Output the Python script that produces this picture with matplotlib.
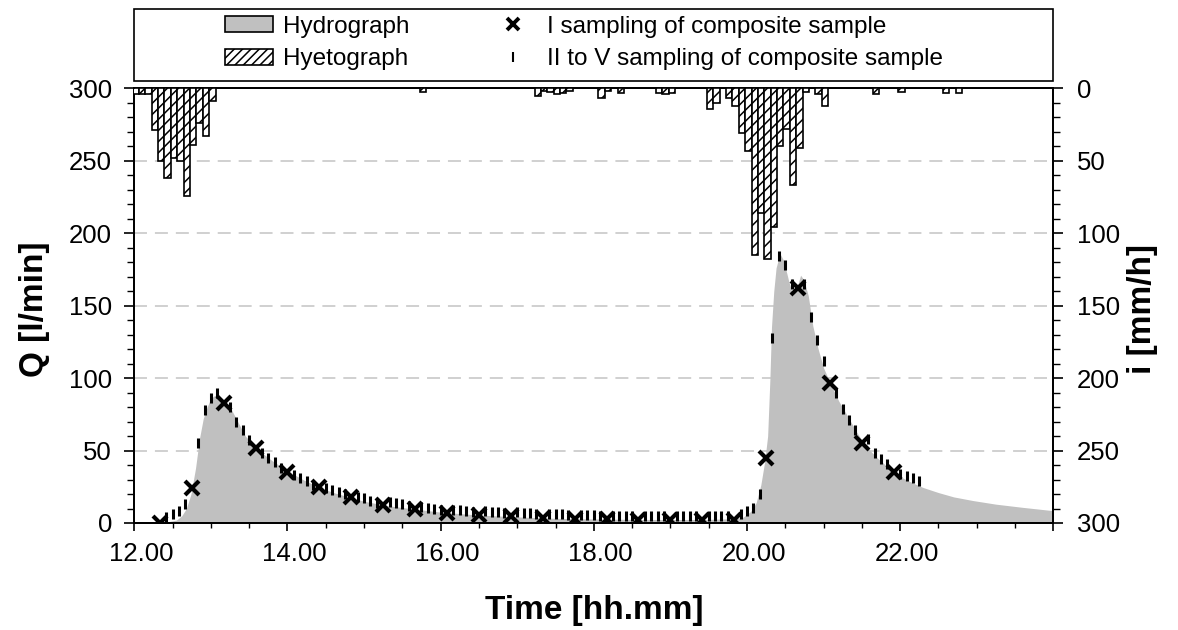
import matplotlib
matplotlib.use("Agg")
import matplotlib.pyplot as plt
import matplotlib.transforms as mtransforms
from matplotlib.patches import Patch, Rectangle
from matplotlib.lines import Line2D
from matplotlib.ticker import MultipleLocator, FuncFormatter

plt.rcParams['font.family'] = ['Liberation Sans', 'DejaVu Sans']
plt.rcParams['hatch.linewidth'] = 1.1

# ---------------- data ----------------
# Hydrograph (time in hours, Q in l/min)
hydro_t = [12.00, 12.40, 12.55, 12.62, 12.68, 12.74, 12.80, 12.85, 12.90, 12.95,
           13.00, 13.05, 13.12, 13.20, 13.28, 13.35, 13.45, 13.60, 13.80, 14.00,
           14.20, 14.40, 14.60, 14.80, 15.00, 15.30, 15.60, 16.00, 16.50, 17.00,
           17.50, 18.00, 18.50, 19.00, 19.50, 19.85, 19.95, 20.05, 20.12, 20.18,
           20.23, 20.27, 20.30, 20.32, 20.35, 20.38, 20.43, 20.48, 20.54, 20.60,
           20.65, 20.70, 20.74, 20.80, 20.86, 20.93, 21.00, 21.10, 21.20, 21.30,
           21.43, 21.55, 21.70, 21.85, 22.00, 22.15, 22.30, 22.50, 22.70, 22.95,
           23.25, 23.60, 24.00]
hydro_q = [0.0, 0.5, 2, 5, 10, 20, 38, 58, 72, 80,
           86, 88, 87, 83, 77, 70, 60, 51, 43, 36,
           30, 25, 21, 18, 15, 12, 10, 7.5, 5.5, 4.2,
           3.2, 2.8, 2.5, 2.4, 2.5, 3, 4, 8, 14, 26,
           42, 60, 100, 135, 160, 176, 186, 181, 168, 157,
           162, 171, 168, 157, 136, 120, 107, 95, 84, 75,
           63, 53, 45, 38, 32, 28, 24.5, 21, 18, 15.5,
           13, 10.8, 8.5]

# Hyetograph (bar left edge in hours, intensity in mm/h, 5-min bars)
rain_t = [11.977, 12.060, 12.143, 12.227, 12.310, 12.393, 12.477, 12.560, 12.643, 12.727,
          12.810, 12.893, 12.977, 15.727, 17.227, 17.310, 17.393, 17.477, 17.560, 17.643,
          18.060, 18.143, 18.310, 18.810, 18.893, 18.977, 19.477, 19.560, 19.727, 19.810,
          19.893, 19.977, 20.060, 20.143, 20.227, 20.310, 20.393, 20.477, 20.560, 20.643,
          20.727, 20.893, 20.977, 21.643, 21.977, 22.560, 22.727]
rain_i = [4, 4, 4, 29, 50, 62, 48, 50, 74, 39,
          24, 33, 9, 2.5, 5, 2, 2.5, 4, 3, 2,
          7, 2, 3.5, 3, 4, 3, 14, 10, 6.5, 12,
          31, 43, 115, 86, 118, 96, 40, 28, 67, 41,
          2.5, 4, 12, 4, 2.5, 3, 3]
rain_width_h = 5 / 60

# I sampling of composite sample (minutes after 12:00, Q)
comp_min = [20, 45, 70, 95, 120, 145, 170, 195, 220, 245, 270, 295,
            320, 345, 370, 395, 420, 445, 470, 495, 520, 545, 570, 595]
comp_q = [0, 24, 83, 51.5, 35, 24.5, 18, 12.5, 9.5, 7, 5.5, 4.8,
          3.3, 2.8, 2.5, 2.2, 2.2, 2.2, 2.3, 45, 162, 96.5, 55, 35]

# II to V sampling of composite sample (minutes after 12:00, Q)
sub_min = [25, 30, 35, 40, 50, 55, 60, 65, 75, 80, 85, 90,
           100, 105, 110, 115, 125, 130, 135, 140, 150, 155, 160, 165,
           175, 180, 185, 190, 200, 205, 210, 215, 225, 230, 235, 240,
           250, 255, 260, 265, 275, 280, 285, 290, 300, 305, 310, 315,
           325, 330, 335, 340, 350, 355, 360, 365, 375, 380, 385, 390,
           400, 405, 410, 415, 425, 430, 435, 440, 450, 455, 460, 465,
           475, 480, 485, 490, 500, 505, 510, 515, 525, 530, 535, 540,
           550, 555, 560, 565, 575, 580, 585, 590, 600, 605, 610, 615]
sub_q = [4, 6, 8.5, 13, 55, 78, 86, 89.5, 80, 70, 64, 57,
         48, 45, 42, 38, 33, 31, 29, 26.5, 24, 23, 21.5, 20,
         18, 17, 15.5, 14, 14.5, 14, 13, 11.5, 11, 10.5, 10, 9,
         9.2, 8.8, 8.4, 7.8, 8, 7.6, 7.3, 7, 7.3, 7, 6.8, 6.5,
         6.5, 6.2, 6, 5.8, 5.5, 5.3, 5.2, 5, 5, 5, 4.9, 4.8,
         4.8, 4.7, 4.8, 4.8, 4.8, 4.7, 4.8, 4.8, 4.8, 4.8, 4.9, 5,
         6, 8, 10.5, 20, 128, 184, 178, 165, 165, 142, 126, 112,
         89.5, 79, 71, 64, 58, 48, 44.5, 41, 34, 32.5, 31, 29]

comp_t = [12 + m / 60 for m in comp_min]
sub_t = [12 + m / 60 for m in sub_min]

legend_labels = ["Hydrograph", "Hyetograph",
                 "I sampling of composite sample",
                 "II to V sampling of composite sample"]

# ---------------- figure ----------------
W, H = 1178, 630
fig = plt.figure(figsize=(W / 100, H / 100), dpi=100)
L, R, T, B = 134.3, 1053.3, 88.3, 523.0
ax = fig.add_axes([L / W, 1 - B / H, (R - L) / W, (B - T) / H])

FILL = '#c0c0c0'
ax.fill_between(hydro_t, 0, hydro_q, color=FILL, lw=0, zorder=2)
ax.plot(sub_t, sub_q, ls='none', marker='|', ms=7, mew=2.2, color='black', zorder=4)
ax.plot(comp_t, comp_q, ls='none', marker='x', ms=10, mew=3, color='black', zorder=5)

ax.set_xlim(12, 24)
ax.set_ylim(0, 300)
ax.yaxis.set_major_locator(MultipleLocator(50))
ax.yaxis.set_minor_locator(MultipleLocator(10))
ax.xaxis.set_major_locator(MultipleLocator(2))
ax.xaxis.set_minor_locator(MultipleLocator(0.5))
ax.xaxis.set_major_formatter(FuncFormatter(lambda v, p: f"{v:.2f}" if v < 23.9 else ""))
ax.yaxis.grid(True, which='major', color='#c4c4c4', lw=1.1, ls=(0, (8.5, 5.2)), zorder=0)
ax.set_axisbelow(True)

ax.tick_params(axis='y', which='major', direction='out', length=7, width=1.2,
               labelsize=18.5, pad=9)
ax.tick_params(axis='y', which='minor', direction='out', length=5, width=1.0)
ax.tick_params(axis='x', which='major', direction='out', length=6, width=1.2,
               labelsize=18.5, pad=8)
ax.tick_params(axis='x', which='minor', direction='out', length=3.5, width=1.0)
for s in ax.spines.values():
    s.set_linewidth(1.3)

offset = mtransforms.ScaledTranslation(7 / 100, 0, fig.dpi_scale_trans)
for lab in ax.get_xticklabels():
    lab.set_transform(lab.get_transform() + offset)

ax2 = ax.twinx()
ax2.bar(rain_t, rain_i, width=rain_width_h, align='edge', color='white',
        edgecolor='black', hatch='///', linewidth=1.2, zorder=3)
ax2.set_ylim(300, 0)
ax2.yaxis.set_major_locator(MultipleLocator(50))
ax2.yaxis.set_minor_locator(MultipleLocator(10))
ax2.tick_params(axis='y', which='major', direction='out', length=7, width=1.2,
                labelsize=18.5, pad=10)
ax2.tick_params(axis='y', which='minor', direction='out', length=5, width=1.0)
for s in ax2.spines.values():
    s.set_linewidth(1.3)

# axis labels
fig.text(35 / W, 1 - 309 / H, "Q [l/min]", rotation=90, ha='center', va='center',
         fontsize=24, fontweight='bold')
fig.text(1143 / W, 1 - 309 / H, "i [mm/h]", rotation=90, ha='center', va='center',
         fontsize=24, fontweight='bold')
fig.text(594 / W, 1 - 611 / H, "Time [hh.mm]", ha='center', va='center',
         fontsize=24, fontweight='bold')

# legend box and entries
fig.patches.append(Rectangle((133.5 / W, 1 - 81 / H), (1053 - 133.5) / W, 72 / H,
                             transform=fig.transFigure, fill=False,
                             edgecolor='black', lw=1.2))
handles = [Patch(facecolor=FILL, edgecolor='black', lw=1.2),
           Patch(facecolor='white', edgecolor='black', hatch='////', lw=1.2),
           Line2D([], [], ls='none', marker='x', ms=8, mew=2.8, color='black'),
           Line2D([], [], ls='none', marker='|', ms=7, mew=1.5, color='black')]
fig.legend(handles, legend_labels, ncol=2, loc='center',
           bbox_to_anchor=(584 / W, 1 - 43 / H), frameon=False, fontsize=17.5,
           handlelength=1.98, handleheight=0.66, handletextpad=0.41,
           columnspacing=3.25, labelspacing=0.45, borderpad=0.2)

fig.savefig("out.png", dpi=100)
